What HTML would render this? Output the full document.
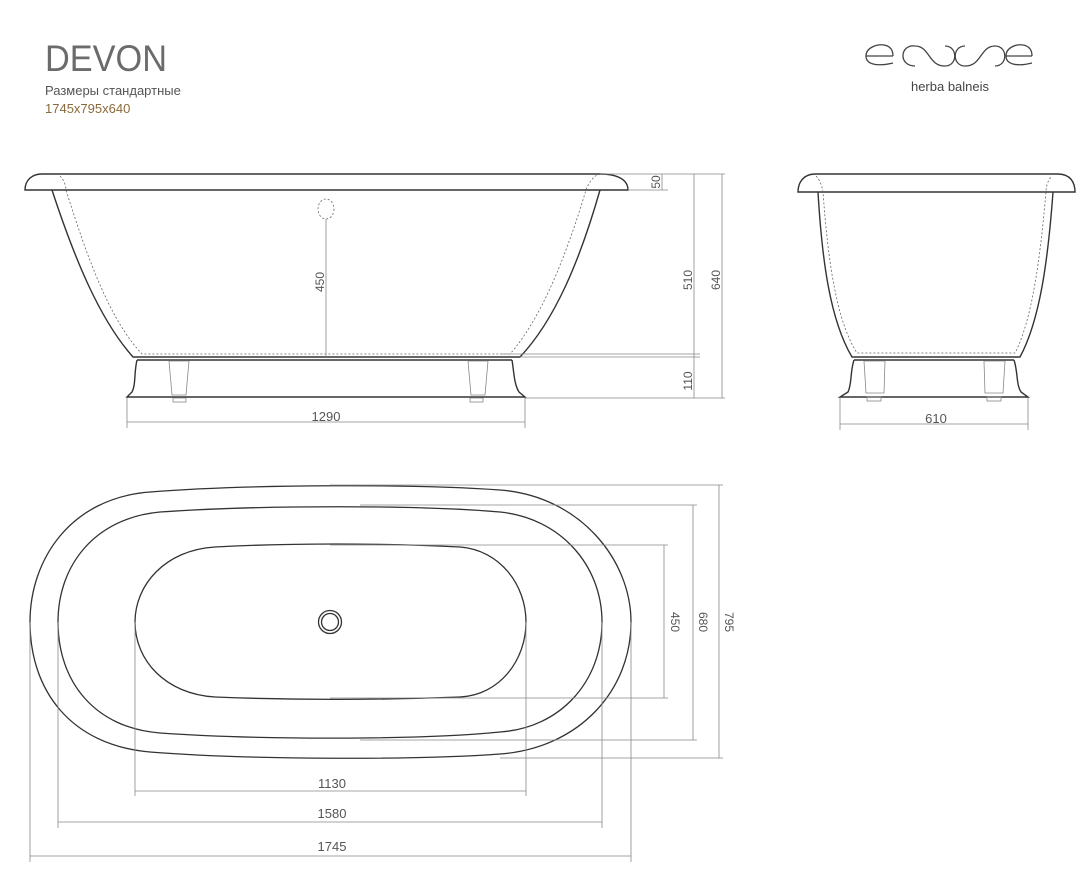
<!DOCTYPE html>
<html><head><meta charset="utf-8"><style>
html,body{margin:0;padding:0;background:#fff;}
svg{display:block;font-family:"Liberation Sans",sans-serif;}
</style></head><body>
<svg width="1090" height="890" viewBox="0 0 1090 890" xmlns="http://www.w3.org/2000/svg">
<text x="45" y="71" font-size="37" fill="#6b6b6b" textLength="122" lengthAdjust="spacingAndGlyphs">DEVON</text>
<text x="45" y="95" font-size="13" fill="#555">Размеры стандартные</text>
<text x="45" y="113" font-size="13" fill="#8a6a3a">1745x795x640</text>
<!-- logo -->
<g fill="none" stroke="#444" stroke-width="1.3">
<path d="M893 56 H866 C866 47 878 44 884 45 C890 46 893 50 893 56 M866 56 C866 64 876 67 893 63"/>
<path d="M915 46 C900 44 898 66 915 66 M915 46 C930 46 928 66 945 66 C958 66 958 46 945 46"/>
<path d="M965 46 C952 46 952 66 965 66 C982 66 980 46 995 46 C1008 46 1008 66 995 66"/>
<path d="M1032 56 H1006 C1006 47 1017 44 1023 45 C1029 46 1032 50 1032 56 M1006 56 C1006 64 1016 67 1032 63"/>
</g>
<text x="950" y="91" font-size="13" fill="#444" text-anchor="middle">herba balneis</text>

<!-- side view -->
<g fill="none" stroke="#333" stroke-width="1.4">
<path d="M42 174 H600 C618 174 628 180 628 190 H25 C25 180 32 174 42 174 Z"/>
<path d="M52 190 C75 260 100 320 133 357 H520 C555 320 580 260 600 190"/>
<path d="M137 360 C134 372 136 384 132 392 L127 397 H525 L519 392 C514 384 514 372 512 360"/>
<line x1="137" y1="360" x2="512" y2="360"/>
</g>
<g fill="none" stroke="#666" stroke-width="0.8" stroke-dasharray="2,2">
<path d="M60 176 C64 180 66 186 66 190 C88 260 110 320 142 354 H510 C540 320 565 260 586 190 C588 184 592 178 597 175"/>
<ellipse cx="326" cy="209" rx="8" ry="10"/>
</g>
<g fill="none" stroke="#888" stroke-width="0.8">
<path d="M169 361 L172 395 H186 L189 361 Z"/><path d="M468 361 L471 395 H485 L488 361 Z"/>
<rect x="173" y="398" width="13" height="4"/><rect x="470" y="398" width="13" height="4"/>
<line x1="326" y1="219" x2="326" y2="357"/>
<line x1="600" y1="174" x2="725" y2="174"/><line x1="628" y1="190" x2="668" y2="190"/>
<line x1="520" y1="357" x2="700" y2="357"/><line x1="500" y1="354" x2="700" y2="354"/>
<line x1="525" y1="398" x2="725" y2="398"/>
<line x1="662" y1="174" x2="662" y2="190"/>
<line x1="694" y1="174" x2="694" y2="398"/>
<line x1="722" y1="174" x2="722" y2="398"/>
<line x1="127" y1="398" x2="127" y2="428"/><line x1="525" y1="398" x2="525" y2="428"/>
<line x1="127" y1="422" x2="525" y2="422"/>
<line x1="840" y1="398" x2="840" y2="430"/><line x1="1028" y1="398" x2="1028" y2="430"/>
<line x1="840" y1="424" x2="1028" y2="424"/>
</g>
<g font-size="12" fill="#555">
<text x="326" y="421" text-anchor="middle" font-size="13">1290</text>
<text transform="translate(324,282) rotate(-90)" text-anchor="middle">450</text>
<text transform="translate(660,182) rotate(-90)" text-anchor="middle">50</text>
<text transform="translate(692,280) rotate(-90)" text-anchor="middle">510</text>
<text transform="translate(720,280) rotate(-90)" text-anchor="middle">640</text>
<text transform="translate(692,381) rotate(-90)" text-anchor="middle">110</text>
<text x="936" y="423" text-anchor="middle" font-size="13">610</text>
</g>

<!-- end view -->
<g fill="none" stroke="#333" stroke-width="1.4">
<path d="M815 174 H1058 C1070 174 1075 182 1075 192 H798 C798 182 804 174 815 174 Z"/>
<path d="M818 192 C822 260 830 320 852 357 H1020 C1040 320 1048 260 1053 192"/>
<path d="M854 360 C850 372 852 384 848 392 L840 397 H1028 L1021 392 C1016 384 1018 372 1014 360"/>
<line x1="854" y1="360" x2="1014" y2="360"/>
</g>
<g fill="none" stroke="#666" stroke-width="0.8" stroke-dasharray="2,2">
<path d="M816 176 C820 180 822 186 823 192 C828 260 836 320 857 353 H1015 C1032 320 1040 260 1046 192 C1046 186 1048 180 1052 176"/>
</g>
<g fill="none" stroke="#888" stroke-width="0.8">
<path d="M864 361 L866 393 H884 L885 361 Z"/><path d="M984 361 L985 393 H1003 L1005 361 Z"/>
<rect x="867" y="397" width="14" height="4"/><rect x="987" y="397" width="14" height="4"/>
</g>

<!-- top view -->
<g fill="none" stroke="#333" stroke-width="1.3">
<path d="M150 492 C250 484 420 484 500 490 C580 496 631 560 631 622 C631 690 580 748 500 754 C420 760 250 760 150 752 C70 745 30 690 30 622 C30 560 70 498 150 492 Z"/>
<path d="M160 512 C260 505 420 505 500 512 C560 518 602 565 602 622 C602 682 560 728 500 732 C420 740 260 740 160 733 C95 728 58 682 58 622 C58 565 95 518 160 512 Z"/>
<path d="M215 547 C290 543 380 543 460 547 C500 550 526 585 526 622 C526 660 500 695 460 697 C380 700 290 700 215 697 C165 694 135 660 135 622 C135 585 165 550 215 547 Z"/>
<circle cx="330" cy="622" r="11.5"/><circle cx="330" cy="622" r="8.5"/>
</g>
<g fill="none" stroke="#888" stroke-width="0.8">
<line x1="330" y1="485" x2="723" y2="485"/><line x1="500" y1="758" x2="723" y2="758"/>
<line x1="360" y1="505" x2="697" y2="505"/><line x1="360" y1="740" x2="697" y2="740"/>
<line x1="330" y1="545" x2="668" y2="545"/><line x1="330" y1="698" x2="668" y2="698"/>
<line x1="719" y1="485" x2="719" y2="758"/>
<line x1="693" y1="505" x2="693" y2="740"/>
<line x1="664" y1="545" x2="664" y2="698"/>
<line x1="135" y1="622" x2="135" y2="796"/><line x1="526" y1="622" x2="526" y2="796"/>
<line x1="58" y1="622" x2="58" y2="828"/><line x1="602" y1="622" x2="602" y2="828"/>
<line x1="30" y1="622" x2="30" y2="862"/><line x1="631" y1="622" x2="631" y2="862"/>
<line x1="135" y1="791" x2="526" y2="791"/>
<line x1="58" y1="822" x2="602" y2="822"/>
<line x1="30" y1="856" x2="631" y2="856"/>
</g>
<g font-size="13" fill="#555" text-anchor="middle">
<text x="332" y="788">1130</text>
<text x="332" y="818">1580</text>
<text x="332" y="851">1745</text>
<text transform="translate(671,622) rotate(90)" font-size="12">450</text>
<text transform="translate(699,622) rotate(90)" font-size="12">680</text>
<text transform="translate(725,622) rotate(90)" font-size="12">795</text>
</g>
</svg>
</body></html>
